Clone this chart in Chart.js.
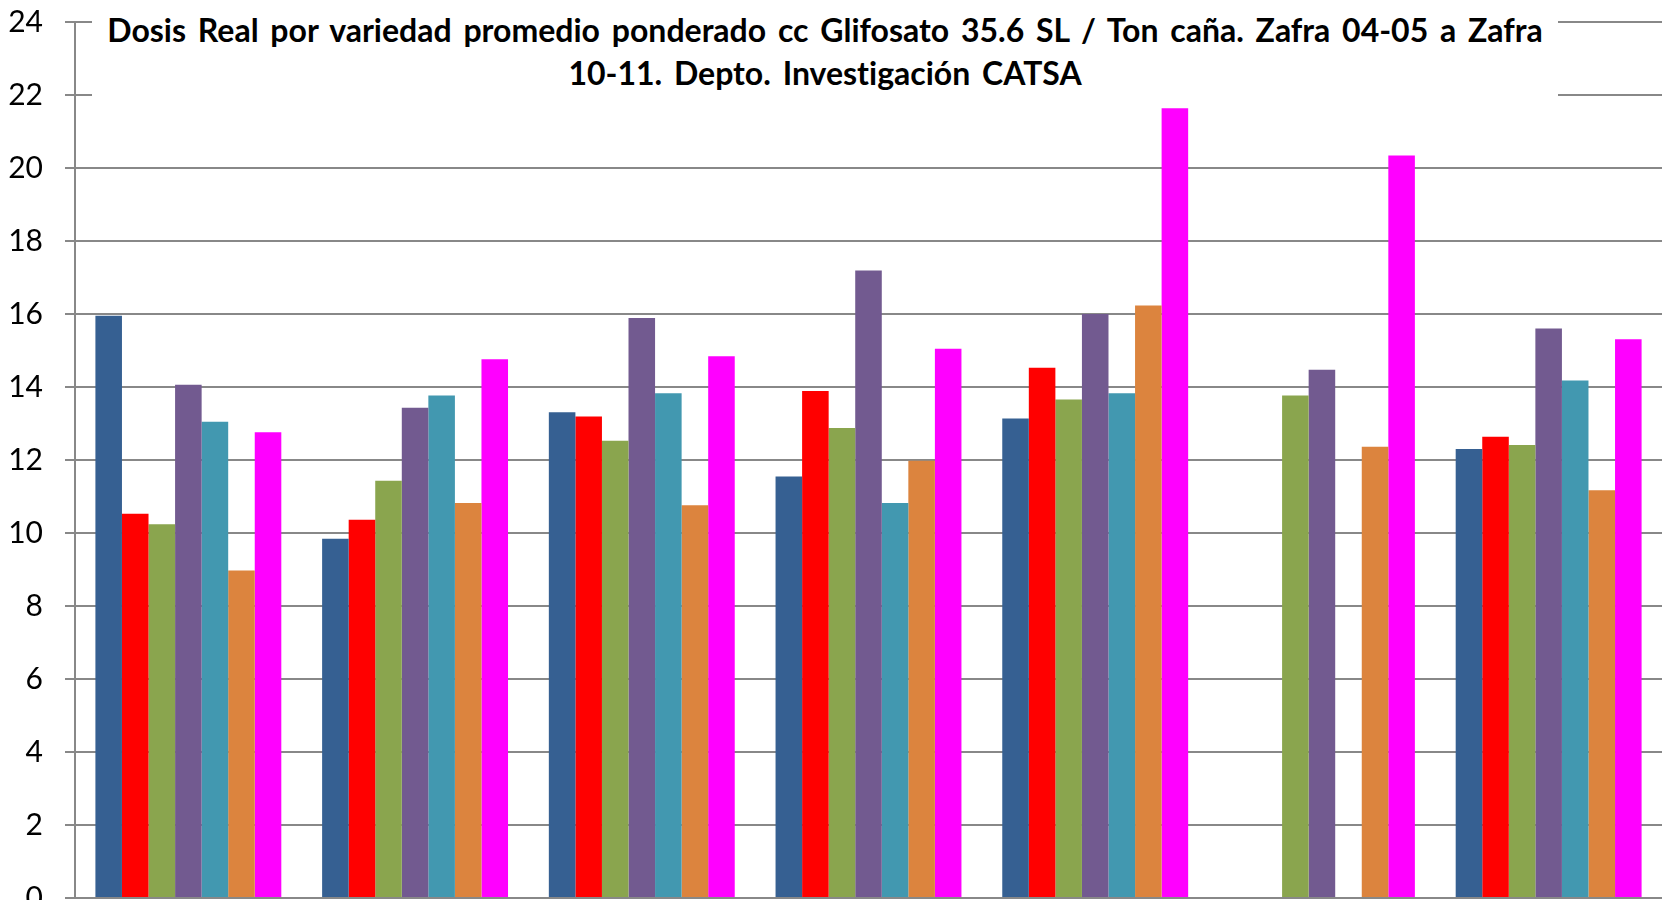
<!DOCTYPE html>
<html>
<head>
<meta charset="utf-8">
<script src="https://cdn.jsdelivr.net/npm/chart.js@4.4.0/dist/chart.umd.min.js"></script>
<style>
  html, body { margin: 0; padding: 0; background: #fff; overflow: hidden; width: 1662px; height: 900px; }
  #wrap { position: relative; width: 1662px; height: 960px; }
  #doseChart { position: absolute; left: 0; top: -18px; }
  #title {
    position: absolute; left: 92px; top: 0; width: 1466px; height: 100px;
    background: #fff; text-align: center;
    font-family: Lato, "Open Sans", sans-serif; font-weight: bold; font-size: 32px;
    word-spacing: 4px; font-variant-ligatures: none;
    line-height: 43px; padding-top: 8px; box-sizing: border-box; color: #000;
  }
</style>
</head>
<body>
<div id="wrap">
  <canvas id="doseChart" width="1662" height="960"></canvas>
  <div id="title">Dosis Real por variedad promedio ponderado cc Glifosato 35.6 SL / Ton caña. Zafra 04-05 a Zafra<br>10-11. Depto. Investigación CATSA</div>
</div>
<script>
document.addEventListener("DOMContentLoaded", function() {

// categories (variety names are cut off in the picture)
var categories = ['Var 1', 'Var 2', 'Var 3', 'Var 4', 'Var 5', 'Var 6', 'Var 7'];

// one series per zafra
var zafra0405 = [15.95, 9.84, 13.31, 11.55, 13.14, null, 12.30];
var zafra0506 = [10.53, 10.36, 13.19, 13.89, 14.53, null, 12.64];
var zafra0607 = [10.24, 11.43, 12.53, 12.88, 13.66, 13.77, 12.41];
var zafra0708 = [14.06, 13.43, 15.89, 17.19, 16.00, 14.47, 15.60];
var zafra0809 = [13.05, 13.77, 13.83, 10.82, 13.83, null, 14.18];
var zafra0910 = [8.97, 10.82, 10.76, 11.98, 16.23, 12.36, 11.17];
var zafra1011 = [12.76, 14.76, 14.84, 15.05, 21.64, 20.34, 15.31];

var yTicks = [0, 2, 4, 6, 8, 10, 12, 14, 16, 18, 20, 22, 24];

var gridColor = '#888888';

function makeSet(label, data, color) {
    return {
        label: label,
        data: data,
        backgroundColor: color,
        borderWidth: 0,
        categoryPercentage: 0.82,
        barPercentage: 1.0
    };
}

var ctx = document.getElementById('doseChart').getContext('2d');

var doseChart = new Chart(ctx, {
    type: 'bar',
    data: {
        labels: categories,
        datasets: [
            makeSet('Zafra 04-05', zafra0405, '#366092'),
            makeSet('Zafra 05-06', zafra0506, '#ff0000'),
            makeSet('Zafra 06-07', zafra0607, '#8aa54e'),
            makeSet('Zafra 07-08', zafra0708, '#725a90'),
            makeSet('Zafra 08-09', zafra0809, '#4298b0'),
            makeSet('Zafra 09-10', zafra0910, '#dc843e'),
            makeSet('Zafra 10-11', zafra1011, '#ff00ff')
        ]
    },
    options: {
        responsive: false,
        animation: false,
        layout: {
            padding: { top: 3, right: 0, bottom: 44, left: 0 }
        },
        plugins: {
            legend: { display: false },
            tooltip: { enabled: false },
            title: { display: false }
        },
        scales: {
            x: {
                offset: true,
                grid: { display: false },
                ticks: { display: false },
                border: { display: true, color: gridColor, width: 2 },
                afterFit: function(scale) { scale.height = 0; }
            },
            y: {
                min: 0,
                max: 24,
                afterBuildTicks: function(scale) {
                    scale.ticks = yTicks.map(function(v) { return { value: v }; });
                },
                ticks: {
                    color: '#000',
                    padding: 22,
                    font: { family: 'Lato', size: 30 }
                },
                grid: {
                    color: gridColor,
                    lineWidth: 2,
                    tickLength: 10
                },
                border: { display: true, color: gridColor, width: 2 },
                afterFit: function(scale) { scale.width = 75; }
            }
        }
    }
});

});
</script>
</body>
</html>
